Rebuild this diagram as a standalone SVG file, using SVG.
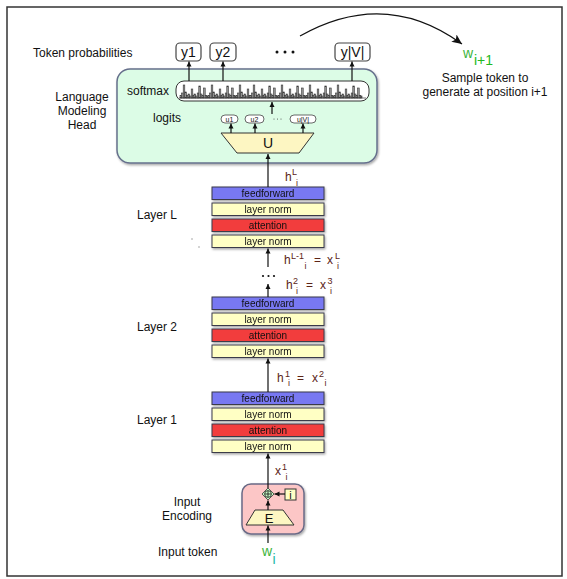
<svg xmlns="http://www.w3.org/2000/svg" xmlns:xlink="http://www.w3.org/1999/xlink" width="567" height="579" viewBox="0 0 567 579">
<style>
text{font-family:"Liberation Sans",Arial,sans-serif;fill:#111}
.lbl{font-size:12px}
.box{font-size:10px;text-anchor:middle}
.ff{fill:#7878f2;stroke:#3a3a4a;stroke-width:1}
.ln{fill:#ffffc4;stroke:#3a3a4a;stroke-width:1}
.att{fill:#f23c3c;stroke:#3a3a4a;stroke-width:1}
.wire{stroke:#111;stroke-width:1.2;fill:none}
.hl{font-size:12px;fill:#5c2416}
.hs{font-size:9px;fill:#5c2416}
.ybox{fill:#fff;stroke:#444;stroke-width:1.2}
.ubox{fill:#fff;stroke:#444;stroke-width:0.8}
.bar{fill:#9c9c9c;stroke:#333;stroke-width:0.6}
.wg{fill:#3cb43c}
.wsub{fill:#22b822}
.wisub{fill:#22b8a8}
</style>
<defs>
<marker id="ah" markerWidth="6" markerHeight="6" refX="5" refY="3" orient="auto" markerUnits="userSpaceOnUse">
<path d="M0,0.5 L5,3 L0,5.5 z" fill="#111"/>
</marker>
<marker id="ahb" markerWidth="12" markerHeight="10" refX="10" refY="5" orient="auto" markerUnits="userSpaceOnUse">
<path d="M0,0.5 L10,5 L0,9.5 L2.5,5 z" fill="#111"/>
</marker>
<filter id="sh" x="-10%" y="-10%" width="125%" height="130%">
<feDropShadow dx="1" dy="1.5" stdDeviation="1" flood-color="#000" flood-opacity="0.35"/>
</filter>
<g id="grpA">
<rect class="bar" x="0" y="-2.5" width="1.6" height="2.5"/>
<rect class="bar" x="1.6" y="-5" width="1.6" height="5"/>
<rect class="bar" x="3.2" y="-13" width="1.6" height="13"/>
<rect class="bar" x="4.8" y="-6" width="1.6" height="6"/>
<rect class="bar" x="6.4" y="-2.5" width="1.6" height="2.5"/>
<rect class="bar" x="8" y="-4" width="1.6" height="4"/>
<rect class="bar" x="9.6" y="-2" width="1.6" height="2"/>
<rect class="bar" x="11.2" y="-9" width="1.6" height="9"/>
<rect class="bar" x="12.8" y="-2.5" width="1.2" height="2.5"/>
</g>
<g id="grpB">
<rect class="bar" x="0" y="-4" width="1.6" height="4"/>
<rect class="bar" x="1.6" y="-2" width="1.6" height="2"/>
<rect class="bar" x="3.2" y="-5" width="1.6" height="5"/>
<rect class="bar" x="4.8" y="-12" width="1.6" height="12"/>
<rect class="bar" x="6.4" y="-4" width="1.6" height="4"/>
<rect class="bar" x="8" y="-2.5" width="1.6" height="2.5"/>
<rect class="bar" x="9.6" y="-10" width="1.6" height="10"/>
<rect class="bar" x="11.2" y="-2.5" width="1.6" height="2.5"/>
<rect class="bar" x="12.8" y="-2" width="1.2" height="2"/>
</g>
</defs>

<rect x="0" y="0" width="567" height="579" fill="#fff"/>
<rect id="frame" x="7" y="7" width="555" height="569" fill="none" stroke="#333" stroke-width="1.5"/>

<!-- side labels -->
<g id="labels">
<text class="lbl" x="33" y="57">Token probabilities</text>
<text class="lbl" x="82" y="101" text-anchor="middle">Language</text>
<text class="lbl" x="82" y="115" text-anchor="middle">Modeling</text>
<text class="lbl" x="82" y="129" text-anchor="middle">Head</text>
<text class="lbl" x="137" y="219">Layer L</text>
<text class="lbl" x="137" y="331">Layer 2</text>
<text class="lbl" x="137" y="424">Layer 1</text>
<text class="lbl" x="187" y="506" text-anchor="middle">Input</text>
<text class="lbl" x="187" y="520" text-anchor="middle">Encoding</text>
<text class="lbl" x="158" y="556">Input token</text>
<circle cx="192" cy="239" r="0.7" fill="#888"/>
<circle cx="199" cy="247" r="0.7" fill="#888"/>
</g>

<!-- LM head -->
<g id="lm-head">
<rect x="117" y="69" width="260" height="94" rx="13" fill="#dcfce6" stroke="#66708c" stroke-width="1.5" filter="url(#sh)"/>
<text class="lbl" x="127" y="95">softmax</text>
<text class="lbl" x="153" y="122">logits</text>
</g>
<g id="softmax">
<rect x="176" y="81" width="193" height="20" rx="8" fill="#fff" stroke="#333" stroke-width="1"/>
<use xlink:href="#grpA" x="180" y="98"/>
<use xlink:href="#grpB" x="194" y="98"/>
<use xlink:href="#grpA" x="208" y="98"/>
<use xlink:href="#grpB" x="222" y="98"/>
<use xlink:href="#grpA" x="236" y="98"/>
<use xlink:href="#grpA" x="250" y="98"/>
<use xlink:href="#grpB" x="264" y="98"/>
<use xlink:href="#grpA" x="278" y="98"/>
<use xlink:href="#grpB" x="292" y="98"/>
<use xlink:href="#grpA" x="306" y="98"/>
<use xlink:href="#grpB" x="320" y="98"/>
<use xlink:href="#grpA" x="334" y="98"/>
<use xlink:href="#grpB" x="348" y="98"/>
<line x1="179" y1="98" x2="366" y2="98" stroke="#333" stroke-width="0.7"/>
</g>
<g id="logit-u1"><rect class="ubox" x="221" y="115" width="17" height="8" rx="4"/><text x="229.5" y="121.5" font-size="7" text-anchor="middle">u1</text></g>
<g id="logit-u2"><rect class="ubox" x="245" y="115" width="19" height="8" rx="4"/><text x="254.5" y="121.5" font-size="7" text-anchor="middle">u2</text></g>
<g id="logit-dots"><circle cx="274" cy="119" r="0.5" fill="#333"/><circle cx="277.5" cy="119" r="0.5" fill="#333"/><circle cx="281" cy="119" r="0.5" fill="#333"/></g>
<g id="logit-uV"><rect class="ubox" x="290" y="115" width="26" height="8" rx="4"/><text x="303" y="121.5" font-size="7" text-anchor="middle">u|V|</text></g>
<g id="unembed">
<polygon points="221,133 314,133 299,153 237,153" fill="#fdf6c2" stroke="#333" stroke-width="1"/>
<text x="268" y="148" font-size="14" text-anchor="middle">U</text>
</g>

<!-- token probabilities -->
<g id="y1"><rect class="ybox" x="176" y="43" width="25" height="18" rx="4"/><text x="188.5" y="57" font-size="14" text-anchor="middle">y1</text></g>
<g id="y2"><rect class="ybox" x="210" y="43" width="26" height="18" rx="4"/><text x="223" y="57" font-size="14" text-anchor="middle">y2</text></g>
<g id="ydots"><circle cx="277" cy="52" r="1.5" fill="#111"/><circle cx="285" cy="52" r="1.5" fill="#111"/><circle cx="293" cy="52" r="1.5" fill="#111"/></g>
<g id="yV"><rect class="ybox" x="335" y="43" width="35" height="18" rx="4"/><text x="352.5" y="57" font-size="14" text-anchor="middle">y|V|</text></g>

<!-- sampled token -->
<g id="next-token">
<text class="wg" x="463" y="58" font-size="14">w</text>
<text class="wsub" x="474" y="65" font-size="14">i+1</text>
<text class="lbl" x="485" y="82" text-anchor="middle">Sample token to</text>
<text class="lbl" x="485" y="96" text-anchor="middle">generate at position i+1</text>
</g>

<!-- Layer L -->
<g id="layer-L" filter="url(#sh)">
<rect class="ff" x="212" y="187" width="112" height="12.5"/><text class="box" x="268" y="197">feedforward</text>
<rect class="ln" x="212" y="203" width="112" height="12.5"/><text class="box" x="268" y="213">layer norm</text>
<rect class="att" x="212" y="219" width="112" height="12.5"/><text class="box" x="268" y="229">attention</text>
<rect class="ln" x="212" y="235" width="112" height="12.5"/><text class="box" x="268" y="245">layer norm</text>
</g>
<!-- Layer 2 -->
<g id="layer-2" filter="url(#sh)">
<rect class="ff" x="212" y="297" width="112" height="12.5"/><text class="box" x="268" y="307">feedforward</text>
<rect class="ln" x="212" y="313" width="112" height="12.5"/><text class="box" x="268" y="323">layer norm</text>
<rect class="att" x="212" y="329" width="112" height="12.5"/><text class="box" x="268" y="339">attention</text>
<rect class="ln" x="212" y="345" width="112" height="12.5"/><text class="box" x="268" y="355">layer norm</text>
</g>
<!-- Layer 1 -->
<g id="layer-1" filter="url(#sh)">
<rect class="ff" x="212" y="392" width="112" height="12.5"/><text class="box" x="268" y="402">feedforward</text>
<rect class="ln" x="212" y="408" width="112" height="12.5"/><text class="box" x="268" y="418">layer norm</text>
<rect class="att" x="212" y="424" width="112" height="12.5"/><text class="box" x="268" y="434">attention</text>
<rect class="ln" x="212" y="440" width="112" height="12.5"/><text class="box" x="268" y="450">layer norm</text>
</g>

<!-- Input encoding -->
<g id="input-encoding">
<rect x="242" y="484" width="62" height="50" rx="9" fill="#fcc6c6" stroke="#6a6a86" stroke-width="1.5" filter="url(#sh)"/>
<polygon points="255,510 283,510 294,525 246,525" fill="#fdf6c2" stroke="#333" stroke-width="1"/>
<text x="269" y="523" font-size="13" text-anchor="middle">E</text>
<polygon points="268,488 274,494 268,500 262,494" fill="#c6f8c6" stroke="#333" stroke-width="0.8"/>
<circle cx="268" cy="494" r="3.4" fill="none" stroke="#111" stroke-width="0.8"/>
<path d="M265,494 H271 M268,491 V497" stroke="#111" stroke-width="0.8"/>
<rect x="285" y="489" width="11" height="11" fill="#ffffc4" stroke="#333" stroke-width="1"/>
<text x="290.5" y="498.5" font-size="11" text-anchor="middle">i</text>
</g>
<g id="input-token">
<text class="wg" x="262" y="556" font-size="14">w</text>
<text class="wisub" x="272.5" y="564" font-size="14">i</text>
</g>

<!-- hidden state labels -->
<g id="state-labels">
<text class="hl" x="285" y="181">h<tspan class="hs" x="292" y="175">L</tspan><tspan class="hs" x="296" y="186">i</tspan></text>
<text class="hl" x="284" y="264">h<tspan class="hs" x="291" y="259">L-1</tspan><tspan class="hs" x="304.5" y="269">i</tspan><tspan x="314" y="264">=</tspan><tspan x="327" y="264">x</tspan><tspan class="hs" x="335" y="259">L</tspan><tspan class="hs" x="337" y="269">i</tspan></text>
<text class="hl" x="286" y="289">h<tspan class="hs" x="293" y="284">2</tspan><tspan class="hs" x="296" y="294">i</tspan><tspan x="306" y="289">=</tspan><tspan x="320" y="289">x</tspan><tspan class="hs" x="327.5" y="284">3</tspan><tspan class="hs" x="330" y="294">i</tspan></text>
<text class="hl" x="277" y="382">h<tspan class="hs" x="285" y="377">1</tspan><tspan class="hs" x="288" y="386">i</tspan><tspan x="297" y="382">=</tspan><tspan x="312" y="382">x</tspan><tspan class="hs" x="319" y="377">2</tspan><tspan class="hs" x="324.5" y="386">i</tspan></text>
<text class="hl" x="275" y="475">x<tspan class="hs" x="282" y="470">1</tspan><tspan class="hs" x="285.5" y="480">i</tspan></text>
</g>

<!-- connectors -->
<g id="connectors" class="wire">
<path class="wire" d="M300,36 Q385,-12 462,44" marker-end="url(#ahb)"/>
<line class="wire" x1="189" y1="81" x2="189" y2="61.5" marker-end="url(#ah)"/>
<line class="wire" x1="223" y1="81" x2="223" y2="61.5" marker-end="url(#ah)"/>
<line class="wire" x1="352" y1="81" x2="352" y2="61.5" marker-end="url(#ah)"/>
<line class="wire" x1="272" y1="114" x2="272" y2="102" marker-end="url(#ah)"/>
<line class="wire" x1="231" y1="133" x2="231" y2="123.5" stroke-width="0.8" marker-end="url(#ah)"/>
<line class="wire" x1="255" y1="133" x2="255" y2="123.5" stroke-width="0.8" marker-end="url(#ah)"/>
<line class="wire" x1="303" y1="133" x2="303" y2="123.5" stroke-width="0.8" marker-end="url(#ah)"/>
<line class="wire" x1="268" y1="187" x2="268" y2="154" marker-end="url(#ah)"/>
<line class="wire" x1="268" y1="267" x2="268" y2="248.5" marker-end="url(#ah)"/>
<line class="wire" x1="268" y1="297" x2="268" y2="284" marker-end="url(#ah)"/>
<circle cx="263" cy="276" r="1.1" fill="#111" stroke="none"/>
<circle cx="268.5" cy="276" r="1.1" fill="#111" stroke="none"/>
<circle cx="274" cy="276" r="1.1" fill="#111" stroke="none"/>
<line class="wire" x1="268" y1="392" x2="268" y2="358.5" marker-end="url(#ah)"/>
<line class="wire" x1="268" y1="488" x2="268" y2="453.5" marker-end="url(#ah)"/>
<line class="wire" x1="268" y1="510" x2="268" y2="500.5" stroke-width="0.9" marker-end="url(#ah)"/>
<line class="wire" x1="285" y1="494" x2="274.5" y2="494" stroke-width="0.9" marker-end="url(#ah)"/>
<line class="wire" x1="268" y1="543" x2="268" y2="525.5" marker-end="url(#ah)"/>
</g>
</svg>
